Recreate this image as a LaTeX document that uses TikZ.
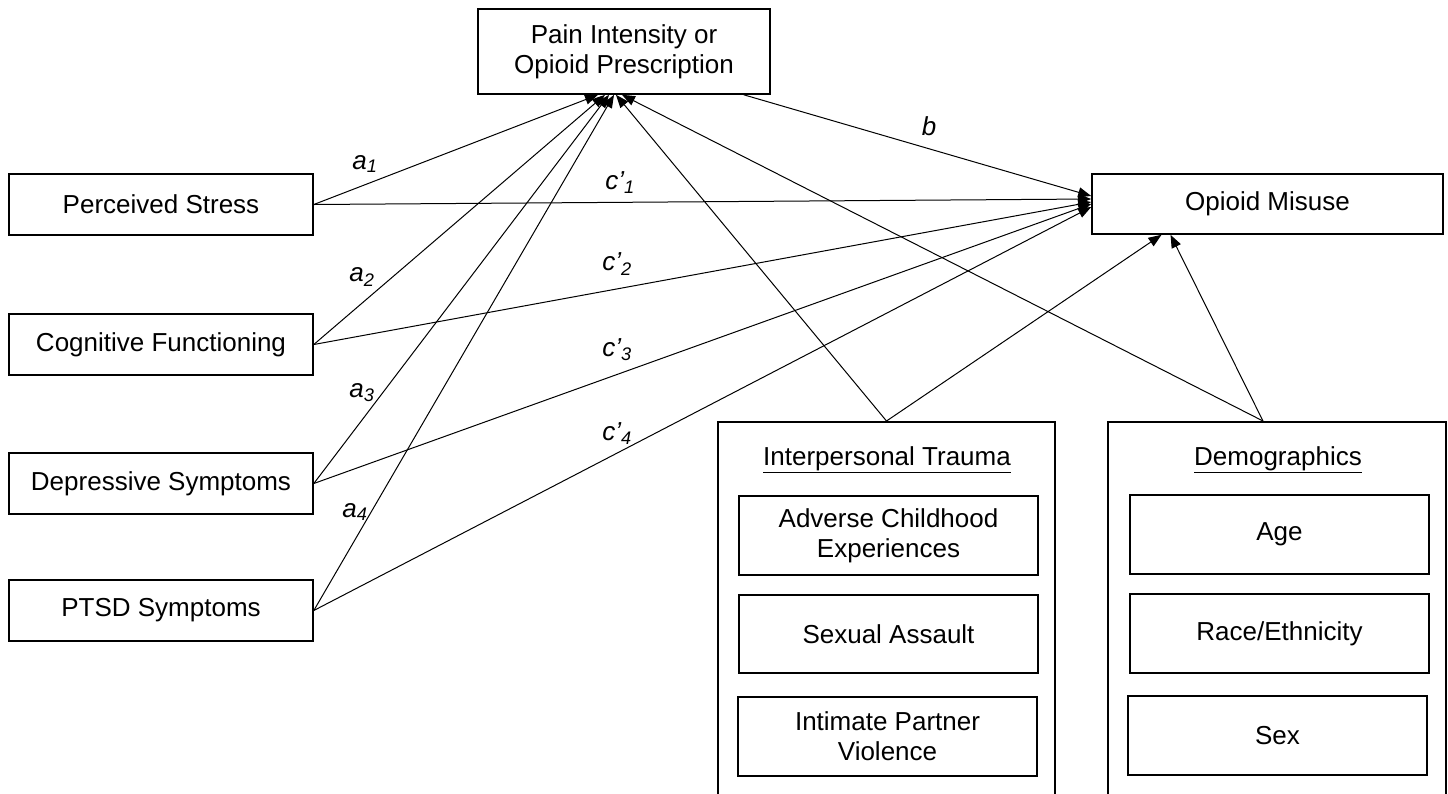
\documentclass[tikz,border=0pt]{standalone}
\usepackage{fontspec}
\setmainfont{Liberation Sans}
\usetikzlibrary{arrows.meta}
\begin{document}
\begin{tikzpicture}[x=1pt,y=-1pt,
  box/.style={draw, line width=1.6pt, fill=white, inner sep=0pt, align=center, font=\fontsize{26}{30}\selectfont},
  grp/.style={draw, line width=1.6pt, inner sep=0pt, anchor=north},
  conn/.style={line width=1pt, -{Triangle[length=13pt,width=10pt]}},
  lbl/.style={font=\fontsize{26}{30}\selectfont\itshape, inner sep=0pt},
  ttl/.style={font=\fontsize{26}{30}\selectfont, inner sep=0pt, anchor=base}]
\clip (0,0) rectangle (1448,793);
% main boxes
\node[box, minimum width=292pt, minimum height=85pt] (pain) at (624,51.5) {Pain Intensity or\\Opioid Prescription};
\node[box, minimum width=351pt, minimum height=60pt] (opioid) at (1267.5,204) {Opioid Misuse};
\node[box, minimum width=304pt, minimum height=61pt] (stress) at (161,204.5) {Perceived Stress};
\node[box, minimum width=304pt, minimum height=61pt] (cog) at (161,344.5) {Cognitive Functioning};
\node[box, minimum width=304pt, minimum height=61pt] (dep) at (161,483.5) {Depressive Symptoms};
\node[box, minimum width=304pt, minimum height=61pt] (ptsd) at (161,610.5) {PTSD Symptoms};
% group boxes
\node[grp, minimum width=337pt, minimum height=400pt] (it) at (886.5,421) {};
\node[grp, minimum width=338pt, minimum height=400pt] (demo) at (1277,421) {};
\node[ttl] (ittitle) at (887,465) {\underline{Interpersonal Trauma}};
\node[ttl] (demotitle) at (1278,465) {\underline{Demographics}};
\node[box, minimum width=299pt, minimum height=79pt] (ace) at (888.5,535.5) {Adverse Childhood\\Experiences};
\node[box, minimum width=299pt, minimum height=78pt] (sa) at (888.5,634) {Sexual Assault};
\node[box, minimum width=299pt, minimum height=79pt] (ipv) at (887.5,736.5) {Intimate Partner\\Violence};
\node[box, minimum width=299pt, minimum height=79pt] (age) at (1279.5,534.5) {Age};
\node[box, minimum width=299pt, minimum height=79pt] (race) at (1279.5,633.5) {Race/Ethnicity};
\node[box, minimum width=299pt, minimum height=79pt] (sex) at (1277.5,735.5) {Sex};
% a paths
\draw[conn] (stress.east) -- ([xshift=-26pt]pain.south);
\draw[conn] (cog.east) -- ([xshift=-19pt]pain.south);
\draw[conn] (dep.east) -- ([xshift=-15pt]pain.south);
\draw[conn] (ptsd.east) -- ([xshift=-10pt]pain.south);
\draw[conn] (it.north) -- ([xshift=-8pt]pain.south);
\draw[conn] ([xshift=-14pt]demo.north) -- ([xshift=-2pt]pain.south);
% b path
\draw[conn] ([xshift=-27pt]pain.south east) -- ([yshift=8pt]opioid.west);
% c' paths
\draw[conn] (stress.east) -- ([yshift=5pt]opioid.west);
\draw[conn] (cog.east) -- ([yshift=2pt]opioid.west);
\draw[conn] (dep.east) -- ([yshift=0pt]opioid.west);
\draw[conn] (ptsd.east) -- ([yshift=-3pt]opioid.west);
% covariates to outcome
\draw[conn] (it.north) -- ([xshift=-106pt]opioid.south);
\draw[conn] ([xshift=-14pt]demo.north) -- ([xshift=-97pt]opioid.south);
% labels
\node[lbl] (la1) at (365,164) {a\textsubscript{1}};
\node[lbl] (la2) at (362,277) {a\textsubscript{2}};
\node[lbl] (la3) at (362,393) {a\textsubscript{3}};
\node[lbl] (la4) at (355,512) {a\textsubscript{4}};
\node[lbl] (lc1) at (620,183) {c’\textsubscript{1}};
\node[lbl] (lc2) at (617,264) {c’\textsubscript{2}};
\node[lbl] (lc3) at (617,350) {c’\textsubscript{3}};
\node[lbl] (lc4) at (617,434) {c’\textsubscript{4}};
\node[lbl] (lb) at (929,126) {b};
\end{tikzpicture}
\end{document}
